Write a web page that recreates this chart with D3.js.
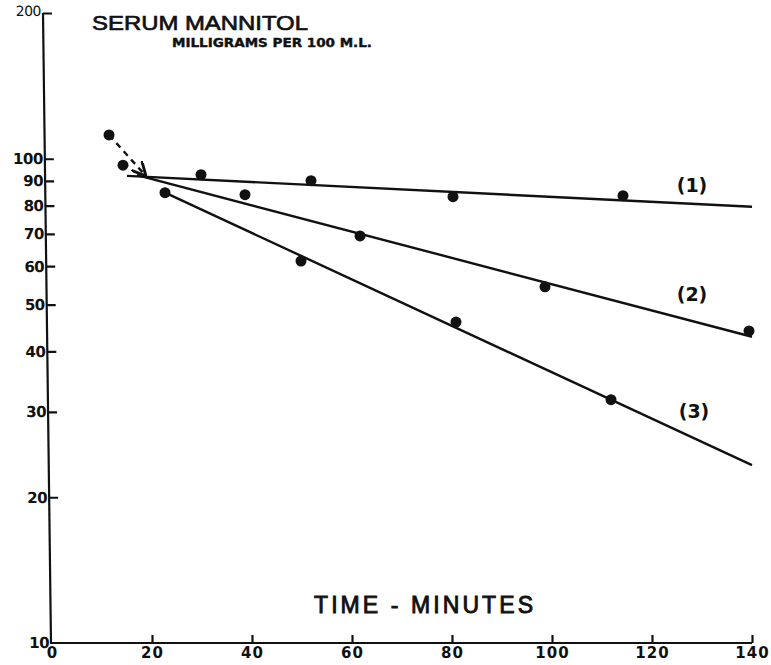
<!DOCTYPE html>
<html>
<head>
<meta charset="utf-8">
<script src="https://cdn.jsdelivr.net/npm/d3@7"></script>
<style>
  html, body { margin: 0; padding: 0; background: #fff; }
  svg { display: block; }
  .tick text { font-family: "DejaVu Sans", sans-serif; font-weight: bold; fill: #111; }
</style>
</head>
<body>
<svg id="chart" width="771" height="665"></svg>
<script>
// Serum mannitol decay curves, log scale, three subjects

const yTicks = [10, 20, 30, 40, 50, 60, 70, 80, 90, 100, 200];
const xTicks = [0, 20, 40, 60, 80, 100, 120, 140];

const lineLabels = ['(1)', '(2)', '(3)'];

// measured points (minutes, mg per 100 ml)
const pts1Time = [29.8, 51.8, 80.2, 114.2];
const pts1Val = [92.7, 90.1, 83.5, 83.9];
const pts2Time = [38.6, 61.6, 98.6, 139.4];
const pts2Val = [84.3, 69.3, 54.4, 44.1];
const pts3Time = [22.6, 49.8, 80.8, 111.8];
const pts3Val = [85.1, 61.5, 46.0, 31.8];
// early points joined by the dashed arrow
const earlyTime = [11.4, 14.2];
const earlyVal = [112, 97];

// fitted straight lines (start, end)
const fit1Time = [15, 140];
const fit1Val = [92.2, 79.6];
const fit2Time = [17, 140];
const fit2Val = [92.5, 42.9];
const fit3Time = [22.6, 140];
const fit3Val = [85.1, 23.3];
const dashTime = [11.4, 18.6];
const dashVal = [112, 92.6];

// label anchor points
const labelTime = [128, 128, 128.4];
const labelVal = [85.5, 50.9, 29.2];

const svg = d3.select('#chart');
const ink = '#111';

const x = d3.scaleLinear().domain([0, 140]).range([52, 752]);
const y = d3.scaleLog().domain([10, 200]).range([643, 13]);

// y axis (the original is drawn slightly out of true)
const slant = 8 / 630;
const yAxisG = svg.append('g')
    .attr('transform', `translate(${43 - 13 * slant},0) skewX(${Math.atan(slant) * 180 / Math.PI})`)
    .call(d3.axisLeft(y).tickValues(yTicks).tickSize(-9).tickPadding(2).tickFormat(d3.format('d')));
yAxisG.select('.domain').remove();
yAxisG.append('line').attr('x1', 0).attr('x2', 0).attr('y1', 13).attr('y2', 643)
    .attr('stroke', ink).attr('stroke-width', 2.2);
yAxisG.selectAll('.tick line').attr('stroke', ink).attr('stroke-width', 2.2);
yAxisG.selectAll('.tick text').style('font-size', '15px').attr('letter-spacing', '-0.5');
yAxisG.selectAll('.tick').filter(d => d === 200).select('text')
    .style('font-weight', 'normal').style('font-size', '14px').attr('dy', '0.2em');
yAxisG.selectAll('.tick').filter(d => d === 10).select('line').remove();

// x axis
const xAxisG = svg.append('g')
    .attr('transform', 'translate(0,643)')
    .call(d3.axisBottom(x).tickValues(xTicks).tickSize(-8).tickPadding(4).tickFormat(d3.format('d')));
xAxisG.select('.domain').remove();
xAxisG.append('line').attr('x1', 50).attr('x2', x(140)).attr('y1', 0).attr('y2', 0)
    .attr('stroke', ink).attr('stroke-width', 2.2);
xAxisG.selectAll('.tick line').attr('stroke', ink).attr('stroke-width', 2.2);
xAxisG.selectAll('.tick').filter(d => d === 0).select('line').remove();
xAxisG.selectAll('.tick text').style('font-size', '15px').attr('letter-spacing', '1');

// fitted lines
const fits = [[fit1Time, fit1Val], [fit2Time, fit2Val], [fit3Time, fit3Val]];
const lineGen = d3.line().x(d => x(d[0])).y(d => y(d[1]));
fits.forEach(([t, v]) => {
    svg.append('path')
        .datum(t.map((tt, i) => [tt, v[i]]))
        .attr('d', lineGen)
        .attr('fill', 'none')
        .attr('stroke', ink)
        .attr('stroke-width', 2.4);
});

// dashed arrow from the early points
svg.append('defs').append('marker')
    .attr('id', 'arrow')
    .attr('viewBox', '0 0 10 10')
    .attr('refX', 9).attr('refY', 5)
    .attr('markerWidth', 6).attr('markerHeight', 6)
    .attr('orient', 'auto')
    .append('path')
    .attr('d', 'M0,0 L10,5 L0,10')
    .attr('fill', 'none')
    .attr('stroke', ink)
    .attr('stroke-width', 2);

svg.append('path')
    .datum(dashTime.map((t, i) => [t, dashVal[i]]))
    .attr('d', lineGen)
    .attr('fill', 'none')
    .attr('stroke', ink)
    .attr('stroke-width', 2.4)
    .attr('stroke-dasharray', '6,5')
    .attr('marker-end', 'url(#arrow)');

// points
const allPts = [];
[[pts1Time, pts1Val], [pts2Time, pts2Val], [pts3Time, pts3Val], [earlyTime, earlyVal]].forEach(([t, v]) => {
    t.forEach((tt, i) => allPts.push([tt, v[i]]));
});
svg.selectAll('.pt').data(allPts).enter().append('circle')
    .attr('class', 'pt')
    .attr('cx', d => x(d[0]))
    .attr('cy', d => y(d[1]))
    .attr('r', 5.5)
    .attr('fill', ink);

// line labels
svg.selectAll('.lbl').data(lineLabels).enter().append('text')
    .attr('class', 'lbl')
    .attr('x', (d, i) => x(labelTime[i]))
    .attr('y', (d, i) => y(labelVal[i]))
    .attr('text-anchor', 'middle')
    .attr('font-family', 'DejaVu Sans, sans-serif')
    .attr('font-weight', 'bold')
    .attr('font-size', 19)
    .attr('fill', ink)
    .text(d => d);

// titles
svg.append('text')
    .attr('x', 92).attr('y', 30)
    .attr('font-family', 'Liberation Sans, sans-serif')
    .attr('font-size', 21)
    .attr('textLength', 216)
    .attr('lengthAdjust', 'spacingAndGlyphs')
    .attr('fill', ink)
    .attr('stroke', ink)
    .attr('stroke-width', 0.7)
    .text('SERUM MANNITOL');

svg.append('text')
    .attr('x', 172).attr('y', 47)
    .attr('font-family', 'DejaVu Sans, sans-serif')
    .attr('font-weight', 'bold')
    .attr('font-size', 12)
    .attr('textLength', 200)
    .attr('lengthAdjust', 'spacingAndGlyphs')
    .attr('fill', ink)
    .attr('stroke', ink)
    .attr('stroke-width', 0.4)
    .text('MILLIGRAMS PER 100 M.L.');

svg.append('text')
    .attr('x', 314).attr('y', 613)
    .attr('font-family', 'Liberation Sans, sans-serif')
    .attr('font-size', 23)
    .attr('textLength', 219)
    .attr('lengthAdjust', 'spacing')
    .attr('fill', ink)
    .attr('stroke', ink)
    .attr('stroke-width', 0.9)
    .text('TIME  -  MINUTES');
</script>
</body>
</html>
